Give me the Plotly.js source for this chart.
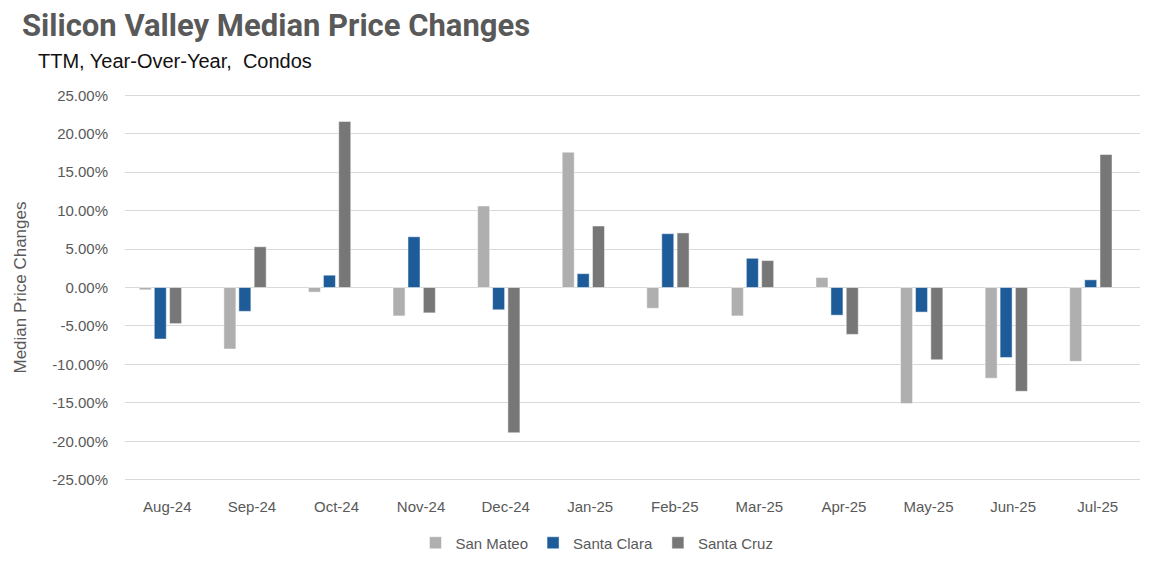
<!DOCTYPE html>
<html>
<head>
<meta charset="utf-8">
<script src="https://cdn.plot.ly/plotly-3.0.1.min.js"></script>
<style>html,body{margin:0;padding:0;background:#fff;}#chart{width:1172px;height:572px;}</style>
</head>
<body>
<div id="chart"></div>
<script>
const categories = ["Aug-24","Sep-24","Oct-24","Nov-24","Dec-24","Jan-25","Feb-25","Mar-25","Apr-25","May-25","Jun-25","Jul-25"];
const sanMateo   = [-0.3, -8.0, -0.6, -3.7, 10.6, 17.6, -2.7, -3.7,  1.3, -15.1, -11.8, -9.6];
const santaClara = [-6.7, -3.1,  1.6,  6.6, -2.9,  1.8,  7.0,  3.8, -3.6,  -3.2,  -9.1,  1.0];
const santaCruz  = [-4.7,  5.3, 21.6, -3.3,-18.9,  8.0,  7.1,  3.5, -6.1,  -9.4, -13.5, 17.3];
const yTickVals  = [25, 20, 15, 10, 5, 0, -5, -10, -15, -20, -25];
const yTickText  = ["25.00%","20.00%","15.00%","10.00%","5.00%","0.00%","-5.00%","-10.00%","-15.00%","-20.00%","-25.00%"];

const font = "Liberation Sans, Arial, sans-serif";
const grey = "#595959";
const barW = 0.142;
function bar(name, vals, color, off) {
  return {
    type: "bar", name: name, x: categories, y: vals,
    width: barW, offset: off,
    marker: {color: color, line: {color: "rgba(255,255,255,0.6)", width: 0.8}},
    hoverinfo: "x+y+name"
  };
}
const traces = [
  bar("San Mateo", sanMateo, "#afafaf", -0.331),
  bar("Santa Clara", santaClara, "#1e5c99", -0.154),
  bar("Santa Cruz", santaCruz, "#777777", 0.027)
];
const bounds = categories.map((c, i) => i - 0.5).concat([categories.length - 0.5]);

const layout = {
  width: 1172, height: 572,
  margin: {l: 125, r: 32, t: 93, b: 90},
  paper_bgcolor: "#fff", plot_bgcolor: "#fff",
  showlegend: true,
  title: {
    text: "<b>Silicon Valley Median Price Changes</b>",
    xref: "container", yref: "container", x: 22/1172, xanchor: "left", y: 1 - 14/572, yanchor: "top",
    font: {family: "Roboto, sans-serif", size: 31, color: grey}
  },
  annotations: [
    {text: "TTM, Year-Over-Year,  Condos", xref: "paper", yref: "paper",
     x: (36 - 125)/1015, xanchor: "left", y: 1 + (93 - 61)/389, yanchor: "middle",
     showarrow: false, font: {family: font, size: 20, color: "#111"}},
    {text: "Median Price Changes", xref: "paper", yref: "paper",
     x: (20 - 125)/1015, xanchor: "center", y: 0.5, yanchor: "middle", textangle: -90,
     showarrow: false, font: {family: font, size: 17, color: grey}}
  ],
  xaxis: {
    type: "category", categoryarray: categories, range: [-0.5, categories.length - 0.5],
    showgrid: false, showline: false, ticks: "", zeroline: false,
    tickfont: {family: font, size: 15, color: grey}, ticklabelstandoff: 14
  },
  xaxis2: {
    overlaying: "x", anchor: "free", position: 0.5, type: "linear",
    range: [-0.5, categories.length - 0.5], showgrid: false, zeroline: false,
    showline: true, linecolor: "#d9d9d9", linewidth: 1,
    tickmode: "array", tickvals: bounds, ticks: "outside", ticklen: 5, tickcolor: "#d9d9d9",
    showticklabels: false
  },
  yaxis: {
    range: [-25.3, 25.3], tickmode: "array", tickvals: yTickVals, ticktext: yTickText,
    showgrid: true, gridcolor: "#d9d9d9", gridwidth: 1, zeroline: false, showline: false,
    tickfont: {family: font, size: 15, color: grey}, ticklabelstandoff: 16
  },
  bargap: 0,
  legend: {
    orientation: "h", x: (597 - 125)/1015, xanchor: "center", y: -(541 - 480)/389, yanchor: "middle",
    font: {family: font, size: 15, color: grey}, itemwidth: 30, traceorder: "normal"
  }
};

Plotly.newPlot("chart", traces, layout, {displayModeBar: false, staticPlot: true});
</script>
</body>
</html>
